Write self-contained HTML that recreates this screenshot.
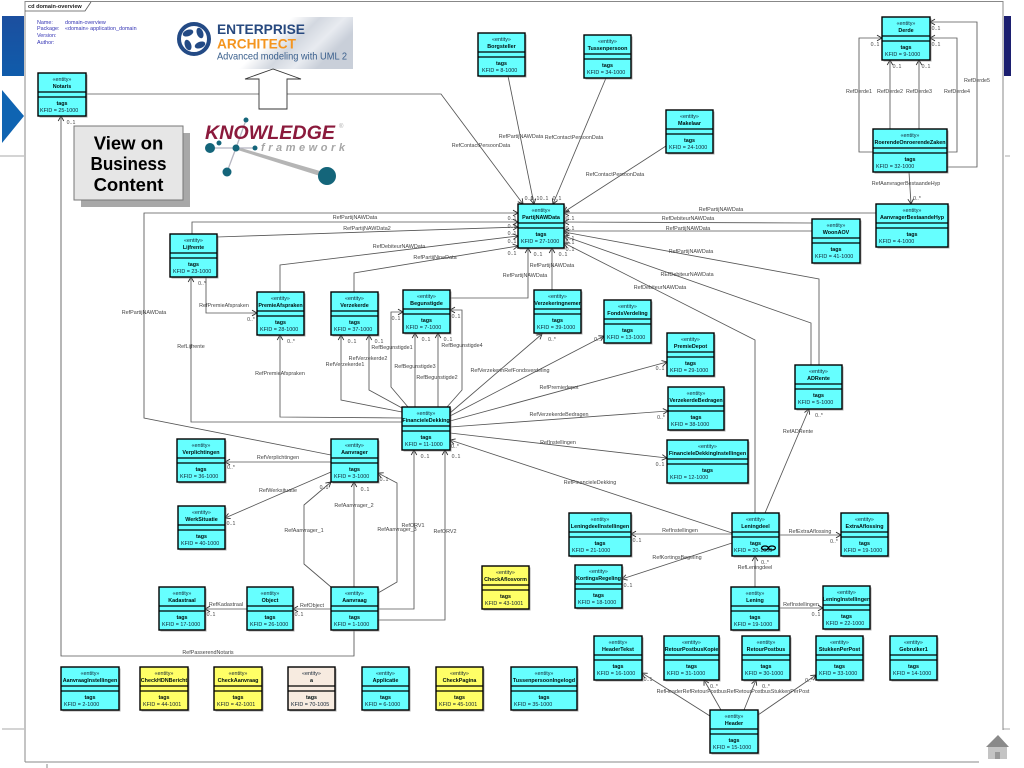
<!DOCTYPE html>
<html><head><meta charset="utf-8"><title>domain-overview</title>
<style>
html,body{margin:0;padding:0;background:#fff;width:1024px;height:768px;overflow:hidden}
svg{display:block;filter:blur(.3px)}
text{font-family:"Liberation Sans",sans-serif}
.l polyline{fill:none;stroke:#555;stroke-width:.85;marker-end:url(#a)}
.lb text{font-size:5.4px;fill:#444;text-anchor:middle}
.m text{font-size:5.2px;fill:#444;text-anchor:middle}
.e rect.b{stroke:#000;stroke-width:1.4}
.e rect.s{fill:#888;opacity:.7}
.e path{stroke:#000;stroke-width:1.2;fill:none}
.e text{font-size:5.4px;fill:#123}
.e .c{text-anchor:middle}
.e .t{text-anchor:middle;font-weight:bold;fill:#011}
.cy{fill:#6ff}.ye{fill:#ff6}.be{fill:#f7ebe0}
.h text{font-size:5.4px;fill:#3434b4}
</style></head><body>
<svg xmlns="http://www.w3.org/2000/svg" width="1024" height="768" viewBox="0 0 1024 768">
<defs>
<marker id="a" markerUnits="userSpaceOnUse" markerWidth="10" markerHeight="10" refX="7" refY="5" orient="auto" viewBox="0 0 10 10"><path d="M2 2.2L7 5L2 7.8" fill="none" stroke="#333" stroke-width=".9"/></marker>
<linearGradient id="g1" x1="0" y1="0" x2="0" y2="1"><stop offset="0" stop-color="#1c4f9f"/><stop offset="1" stop-color="#0f5cab"/></linearGradient>
<linearGradient id="g2" x1="0" y1="0" x2="1" y2=".3"><stop offset="0" stop-color="#fff"/><stop offset=".6" stop-color="#fff"/><stop offset=".75" stop-color="#d3d8e0"/><stop offset=".88" stop-color="#e8ebf0"/><stop offset="1" stop-color="#c9cfd9"/></linearGradient>
</defs>

<!-- background decoration -->
<rect x="2" y="16" width="22" height="60" fill="url(#g1)"/>
<polygon points="2,90 24,116 2,143" fill="#0f64b2"/>
<rect x="1004" y="16" width="7" height="60" fill="#1c1f70"/>
<path d="M0 156H24M1005 156H1010M2 729H24M1003 729H1010" stroke="#aaa" stroke-width="1"/>
<path d="M47 764V768" stroke="#888" stroke-width="1"/>

<!-- frame -->
<path d="M25 762V1.5H1003V730M25 762H979" fill="none" stroke="#888" stroke-width="1"/>
<path d="M25 11H85L91 2" fill="none" stroke="#555" stroke-width=".8"/>
<text x="28" y="8" font-size="5.6" font-weight="bold" fill="#222">cd domain-overview</text>

<g class="h">
<text x="37" y="24">Name:</text><text x="65" y="24">domain-overview</text>
<text x="37" y="30">Package:</text><text x="65" y="30">«domain» application_domain</text>
<text x="37" y="37">Version:</text>
<text x="37" y="44">Author:</text>
</g>

<!-- EA logo -->
<rect x="176" y="17" width="177" height="52" fill="url(#g2)"/>
<circle cx="194" cy="39" r="15" fill="#fff" stroke="#234a85" stroke-width="4"/>
<g fill="#234a85">
<ellipse cx="188" cy="33" rx="5.5" ry="3.2" transform="rotate(-20 188 33)"/>
<ellipse cx="200" cy="33" rx="5.5" ry="3.2" transform="rotate(70 200 33)"/>
<ellipse cx="200" cy="45" rx="5.5" ry="3.2" transform="rotate(-20 200 45)"/>
<ellipse cx="188" cy="45" rx="5.5" ry="3.2" transform="rotate(70 188 45)"/>
</g>
<text x="217" y="34" font-size="14" font-weight="bold" fill="#27497f" textLength="88" lengthAdjust="spacingAndGlyphs">ENTERPRISE</text>
<text x="217" y="48.5" font-size="14" font-weight="bold" fill="#f4951f" textLength="79" lengthAdjust="spacingAndGlyphs">ARCHITECT</text>
<text x="217" y="59.5" font-size="10.5" fill="#3a5f8c" textLength="130" lengthAdjust="spacingAndGlyphs">Advanced modeling with UML 2</text>

<!-- connectors -->
<g class="l">
<polyline points="86,94 441,94 523,204"/>
<polyline points="508,76 534,204"/>
<polyline points="606,78 553,204"/>
<polyline points="666,146 564,212"/>
<polyline points="331,455 144,418 144,213 518,213"/>
<polyline points="192,234 192,222 518,222"/>
<polyline points="217,237 518,227"/>
<polyline points="280,292 280,265 518,236"/>
<polyline points="354,292 354,273 518,246"/>
<polyline points="450,298 528,298 528,248"/>
<polyline points="552,290 552,248"/>
<polyline points="876,213 564,213"/>
<polyline points="812,223 564,222"/>
<polyline points="812,231 564,231"/>
<polyline points="819,365 819,279 564,232"/>
<polyline points="811,365 811,323 564,236"/>
<polyline points="755,513 755,340 564,243"/>
<polyline points="402,422 191,422 191,277"/>
<polyline points="402,418 280,417 280,335"/>
<polyline points="206,277 206,313 257,313"/>
<polyline points="402,412 341,400 341,335"/>
<polyline points="402,408 369,390 369,335"/>
<polyline points="408,407 391,387 391,312 403,312"/>
<polyline points="415,407 415,333"/>
<polyline points="438,407 438,333"/>
<polyline points="447,407 462,390 462,310 450,310"/>
<polyline points="450,413 542,334"/>
<polyline points="450,416 604,336"/>
<polyline points="450,421 667,362"/>
<polyline points="450,427 668,411"/>
<polyline points="450,433 667,458"/>
<polyline points="732,533 450,440"/>
<polyline points="331,462 225,462"/>
<polyline points="331,472 225,518"/>
<polyline points="331,587 304,564 304,505 331,482"/>
<polyline points="354,587 354,482"/>
<polyline points="378,593 397,582 397,483 378,473"/>
<polyline points="378,609 414,609 414,450"/>
<polyline points="378,620 445,620 445,450"/>
<polyline points="331,609 293,609"/>
<polyline points="247,609 205,609"/>
<polyline points="354,630 354,656 61,656 61,116"/>
<polyline points="732,534 631,534"/>
<polyline points="732,543 622,579"/>
<polyline points="755,587 755,556"/>
<polyline points="779,535 841,535"/>
<polyline points="765,513 809,409"/>
<polyline points="779,608 823,608"/>
<polyline points="710,716 642,673"/>
<polyline points="721,710 704,680"/>
<polyline points="744,710 756,680"/>
<polyline points="758,715 816,675"/>
<polyline points="873,152 859,152 859,38 882,38"/>
<polyline points="890,129 890,60"/>
<polyline points="919,129 919,60"/>
<polyline points="947,152 957,152 957,38 930,38"/>
<polyline points="947,167 977,167 977,22 930,22"/>
<polyline points="909,172 911,204"/>
</g>

<!-- big arrow -->
<polygon points="273,69 245,79 259,79 259,109 287,109 287,79 301,79" fill="#fff" stroke="#333" stroke-width=".9"/>

<!-- knowledge logo -->
<path d="M236 146.500L320 171V176L236 149.500Z" fill="#b5b5b5"/>
<path d="M210 148H255M236 148L227 172M236 148L246 120" stroke="#b5b5c0" stroke-width="1.3" fill="none"/>
<text x="205" y="139" font-size="19.500" font-weight="bold" font-style="italic" fill="#8b1a3c" textLength="130" lengthAdjust="spacingAndGlyphs">KNOWLEDGE</text>
<text x="339" y="128" font-size="6" fill="#aaa">®</text>
<text x="261" y="151" font-size="11" font-weight="bold" font-style="italic" fill="#a6a6a6" textLength="84">framework</text>
<g fill="#14657a">
<circle cx="246" cy="120" r="2.500"/><circle cx="210" cy="148" r="5"/><circle cx="219" cy="143" r="2.500"/>
<circle cx="236" cy="148" r="3.500"/><circle cx="255" cy="148" r="2.500"/><circle cx="227" cy="172" r="4.500"/><circle cx="327" cy="176" r="9"/>
</g>

<!-- view box -->
<rect x="81" y="133" width="109" height="74" fill="#a8a8a8"/>
<rect x="74" y="126" width="109" height="74" fill="#e6e6e6" stroke="#777" stroke-width="1"/>
<g font-size="18.500" font-weight="bold" fill="#000" text-anchor="middle">
<text x="128.500" y="149.500">View on</text>
<text x="128.500" y="170" textLength="76" lengthAdjust="spacingAndGlyphs">Business</text>
<text x="128.500" y="191">Content</text>
</g>

<!-- entities -->
<g class="e">
<g transform="translate(38,73)"><rect class="s" x="1.5" y="1.5" width="48" height="43"/><rect class="b cy" width="48" height="43"/><path d="M0 19H48M0 24H48"/><text class="c" x="24" y="8">«entity»</text><text class="t" x="24" y="15">Notaris</text><text class="t" x="24" y="32">tags</text><text x="2" y="39">KFID = 25-1000</text></g>
<g transform="translate(478,33)"><rect class="s" x="1.5" y="1.5" width="47" height="43"/><rect class="b cy" width="47" height="43"/><path d="M0 19H47M0 24H47"/><text class="c" x="23.500" y="8">«entity»</text><text class="t" x="23.500" y="15">Borgsteller</text><text class="t" x="23.500" y="32">tags</text><text x="4" y="39">KFID = 8-1000</text></g>
<g transform="translate(584,35)"><rect class="s" x="1.5" y="1.5" width="47" height="43"/><rect class="b cy" width="47" height="43"/><path d="M0 19H47M0 24H47"/><text class="c" x="23.500" y="8">«entity»</text><text class="t" x="23.500" y="15">Tussenpersoon</text><text class="t" x="23.500" y="32">tags</text><text x="3" y="39">KFID = 34-1000</text></g>
<g transform="translate(666,110)"><rect class="s" x="1.5" y="1.5" width="47" height="43"/><rect class="b cy" width="47" height="43"/><path d="M0 19H47M0 24H47"/><text class="c" x="23.500" y="8">«entity»</text><text class="t" x="23.500" y="15">Makelaar</text><text class="t" x="23.500" y="32">tags</text><text x="3" y="39">KFID = 24-1000</text></g>
<g transform="translate(882,17)"><rect class="s" x="1.5" y="1.5" width="48" height="43"/><rect class="b cy" width="48" height="43"/><path d="M0 19H48M0 24H48"/><text class="c" x="24" y="8">«entity»</text><text class="t" x="24" y="15">Derde</text><text class="t" x="24" y="32">tags</text><text x="3" y="39">KFID = 9-1000</text></g>
<g transform="translate(873,129)"><rect class="s" x="1.5" y="1.5" width="74" height="43"/><rect class="b cy" width="74" height="43"/><path d="M0 19H74M0 24H74"/><text class="c" x="37" y="8">«entity»</text><text class="t" x="37" y="15">RoerendeOnroerendeZaken</text><text class="t" x="37" y="32">tags</text><text x="3" y="39">KFID = 32-1000</text></g>
<g transform="translate(876,204)"><rect class="s" x="1.5" y="1.5" width="72" height="43"/><rect class="b cy" width="72" height="43"/><path d="M0 19H72M0 24H72"/><text class="c" x="36" y="8">«entity»</text><text class="t" x="36" y="15">AanvragerBestaandeHyp</text><text class="t" x="36" y="32">tags</text><text x="3" y="39">KFID = 4-1000</text></g>
<g transform="translate(812,219)"><rect class="s" x="1.5" y="1.5" width="48" height="44"/><rect class="b cy" width="48" height="44"/><path d="M0 19H48M0 24H48"/><text class="c" x="24" y="8">«entity»</text><text class="t" x="24" y="15">WoonAOV</text><text class="t" x="24" y="32">tags</text><text x="3" y="39">KFID = 41-1000</text></g>
<g transform="translate(518,204)"><rect class="s" x="1.5" y="1.5" width="46" height="44"/><rect class="b cy" width="46" height="44"/><path d="M0 19H46M0 24H46"/><text class="c" x="23" y="8">«entity»</text><text class="t" x="23" y="15">PartijNAWData</text><text class="t" x="23" y="32">tags</text><text x="3" y="39">KFID = 27-1000</text></g>
<g transform="translate(170,234)"><rect class="s" x="1.5" y="1.5" width="47" height="43"/><rect class="b cy" width="47" height="43"/><path d="M0 19H47M0 24H47"/><text class="c" x="23.500" y="8">«entity»</text><text class="t" x="23.500" y="15">Lijfrente</text><text class="t" x="23.500" y="32">tags</text><text x="3" y="39">KFID = 23-1000</text></g>
<g transform="translate(257,292)"><rect class="s" x="1.5" y="1.5" width="47" height="43"/><rect class="b cy" width="47" height="43"/><path d="M0 19H47M0 24H47"/><text class="c" x="23.500" y="8">«entity»</text><text class="t" x="23.500" y="15">PremieAfspraken</text><text class="t" x="23.500" y="32">tags</text><text x="3" y="39">KFID = 28-1000</text></g>
<g transform="translate(331,292)"><rect class="s" x="1.5" y="1.5" width="47" height="43"/><rect class="b cy" width="47" height="43"/><path d="M0 19H47M0 24H47"/><text class="c" x="23.500" y="8">«entity»</text><text class="t" x="23.500" y="15">Verzekerde</text><text class="t" x="23.500" y="32">tags</text><text x="3" y="39">KFID = 37-1000</text></g>
<g transform="translate(403,290)"><rect class="s" x="1.5" y="1.5" width="47" height="43"/><rect class="b cy" width="47" height="43"/><path d="M0 19H47M0 24H47"/><text class="c" x="23.500" y="8">«entity»</text><text class="t" x="23.500" y="15">Begunstigde</text><text class="t" x="23.500" y="32">tags</text><text x="3" y="39">KFID = 7-1000</text></g>
<g transform="translate(534,290)"><rect class="s" x="1.5" y="1.5" width="47" height="43"/><rect class="b cy" width="47" height="43"/><path d="M0 19H47M0 24H47"/><text class="c" x="23.500" y="8">«entity»</text><text class="t" x="23.500" y="15">Verzekeringnemer</text><text class="t" x="23.500" y="32">tags</text><text x="3" y="39">KFID = 39-1000</text></g>
<g transform="translate(604,300)"><rect class="s" x="1.5" y="1.5" width="47" height="43"/><rect class="b cy" width="47" height="43"/><path d="M0 19H47M0 24H47"/><text class="c" x="23.500" y="8">«entity»</text><text class="t" x="23.500" y="15">FondsVerdeling</text><text class="t" x="23.500" y="32">tags</text><text x="3" y="39">KFID = 13-1000</text></g>
<g transform="translate(667,333)"><rect class="s" x="1.5" y="1.5" width="47" height="43"/><rect class="b cy" width="47" height="43"/><path d="M0 19H47M0 24H47"/><text class="c" x="23.500" y="8">«entity»</text><text class="t" x="23.500" y="15">PremieDepot</text><text class="t" x="23.500" y="32">tags</text><text x="3" y="39">KFID = 29-1000</text></g>
<g transform="translate(668,387)"><rect class="s" x="1.5" y="1.5" width="56" height="43"/><rect class="b cy" width="56" height="43"/><path d="M0 19H56M0 24H56"/><text class="c" x="28" y="8">«entity»</text><text class="t" x="28" y="15">VerzekerdeBedragen</text><text class="t" x="28" y="32">tags</text><text x="3" y="39">KFID = 38-1000</text></g>
<g transform="translate(667,440)"><rect class="s" x="1.5" y="1.5" width="81" height="43"/><rect class="b cy" width="81" height="43"/><path d="M0 19H81M0 24H81"/><text class="c" x="40.500" y="8">«entity»</text><text class="t" x="40.500" y="15">FinancieleDekkingInstellingen</text><text class="t" x="40.500" y="32">tags</text><text x="3" y="39">KFID = 12-1000</text></g>
<g transform="translate(795,365)"><rect class="s" x="1.5" y="1.5" width="47" height="44"/><rect class="b cy" width="47" height="44"/><path d="M0 19H47M0 24H47"/><text class="c" x="23.500" y="8">«entity»</text><text class="t" x="23.500" y="15">ADRente</text><text class="t" x="23.500" y="32">tags</text><text x="3" y="39">KFID = 5-1000</text></g>
<g transform="translate(402,407)"><rect class="s" x="1.5" y="1.5" width="48" height="43"/><rect class="b cy" width="48" height="43"/><path d="M0 19H48M0 24H48"/><text class="c" x="24" y="8">«entity»</text><text class="t" x="24" y="15">FinancieleDekking</text><text class="t" x="24" y="32">tags</text><text x="3" y="39">KFID = 11-1000</text></g>
<g transform="translate(177,439)"><rect class="s" x="1.5" y="1.5" width="48" height="43"/><rect class="b cy" width="48" height="43"/><path d="M0 19H48M0 24H48"/><text class="c" x="24" y="8">«entity»</text><text class="t" x="24" y="15">Verplichtingen</text><text class="t" x="24" y="32">tags</text><text x="3" y="39">KFID = 36-1000</text></g>
<g transform="translate(331,439)"><rect class="s" x="1.5" y="1.5" width="47" height="43"/><rect class="b cy" width="47" height="43"/><path d="M0 19H47M0 24H47"/><text class="c" x="23.500" y="8">«entity»</text><text class="t" x="23.500" y="15">Aanvrager</text><text class="t" x="23.500" y="32">tags</text><text x="3" y="39">KFID = 3-1000</text></g>
<g transform="translate(178,506)"><rect class="s" x="1.5" y="1.5" width="47" height="43"/><rect class="b cy" width="47" height="43"/><path d="M0 19H47M0 24H47"/><text class="c" x="23.500" y="8">«entity»</text><text class="t" x="23.500" y="15">WerkSituatie</text><text class="t" x="23.500" y="32">tags</text><text x="3" y="39">KFID = 40-1000</text></g>
<g transform="translate(159,587)"><rect class="s" x="1.5" y="1.5" width="46" height="43"/><rect class="b cy" width="46" height="43"/><path d="M0 19H46M0 24H46"/><text class="c" x="23" y="8">«entity»</text><text class="t" x="23" y="15">Kadastraal</text><text class="t" x="23" y="32">tags</text><text x="3" y="39">KFID = 17-1000</text></g>
<g transform="translate(247,587)"><rect class="s" x="1.5" y="1.5" width="46" height="43"/><rect class="b cy" width="46" height="43"/><path d="M0 19H46M0 24H46"/><text class="c" x="23" y="8">«entity»</text><text class="t" x="23" y="15">Object</text><text class="t" x="23" y="32">tags</text><text x="3" y="39">KFID = 26-1000</text></g>
<g transform="translate(331,587)"><rect class="s" x="1.5" y="1.5" width="47" height="43"/><rect class="b cy" width="47" height="43"/><path d="M0 19H47M0 24H47"/><text class="c" x="23.500" y="8">«entity»</text><text class="t" x="23.500" y="15">Aanvraag</text><text class="t" x="23.500" y="32">tags</text><text x="3" y="39">KFID = 1-1000</text></g>
<g transform="translate(482,566)"><rect class="s" x="1.5" y="1.5" width="47" height="43"/><rect class="b ye" width="47" height="43"/><path d="M0 19H47M0 24H47"/><text class="c" x="23.500" y="8">«entity»</text><text class="t" x="23.500" y="15">CheckAflosvorm</text><text class="t" x="23.500" y="32">tags</text><text x="3" y="39">KFID = 43-1001</text></g>
<g transform="translate(569,513)"><rect class="s" x="1.5" y="1.5" width="62" height="43"/><rect class="b cy" width="62" height="43"/><path d="M0 19H62M0 24H62"/><text class="c" x="31" y="8">«entity»</text><text class="t" x="31" y="15">LeningdeelInstellingen</text><text class="t" x="31" y="32">tags</text><text x="3" y="39">KFID = 21-1000</text></g>
<g transform="translate(732,513)"><rect class="s" x="1.5" y="1.5" width="47" height="43"/><rect class="b cy" width="47" height="43"/><path d="M0 19H47M0 24H47"/><text class="c" x="23.500" y="8">«entity»</text><text class="t" x="23.500" y="15">Leningdeel</text><text class="t" x="23.500" y="32">tags</text><text x="2" y="39">KFID = 20-1000</text></g>
<g transform="translate(841,513)"><rect class="s" x="1.5" y="1.5" width="47" height="43"/><rect class="b cy" width="47" height="43"/><path d="M0 19H47M0 24H47"/><text class="c" x="23.500" y="8">«entity»</text><text class="t" x="23.500" y="15">ExtraAflossing</text><text class="t" x="23.500" y="32">tags</text><text x="3" y="39">KFID = 19-1000</text></g>
<g transform="translate(575,565)"><rect class="s" x="1.5" y="1.5" width="47" height="43"/><rect class="b cy" width="47" height="43"/><path d="M0 19H47M0 24H47"/><text class="c" x="23.500" y="8">«entity»</text><text class="t" x="23.500" y="15">KortingsRegeling</text><text class="t" x="23.500" y="32">tags</text><text x="3" y="39">KFID = 18-1000</text></g>
<g transform="translate(731,587)"><rect class="s" x="1.5" y="1.5" width="48" height="43"/><rect class="b cy" width="48" height="43"/><path d="M0 19H48M0 24H48"/><text class="c" x="24" y="8">«entity»</text><text class="t" x="24" y="15">Lening</text><text class="t" x="24" y="32">tags</text><text x="3" y="39">KFID = 19-1000</text></g>
<g transform="translate(823,586)"><rect class="s" x="1.5" y="1.5" width="47" height="43"/><rect class="b cy" width="47" height="43"/><path d="M0 19H47M0 24H47"/><text class="c" x="23.500" y="8">«entity»</text><text class="t" x="23.500" y="15">LeningInstellingen</text><text class="t" x="23.500" y="32">tags</text><text x="3" y="39">KFID = 22-1000</text></g>
<g transform="translate(594,636)"><rect class="s" x="1.5" y="1.5" width="48" height="44"/><rect class="b cy" width="48" height="44"/><path d="M0 19H48M0 24H48"/><text class="c" x="24" y="8">«entity»</text><text class="t" x="24" y="15">HeaderTekst</text><text class="t" x="24" y="32">tags</text><text x="3" y="39">KFID = 16-1000</text></g>
<g transform="translate(664,636)"><rect class="s" x="1.5" y="1.5" width="55" height="44"/><rect class="b cy" width="55" height="44"/><path d="M0 19H55M0 24H55"/><text class="c" x="27.500" y="8">«entity»</text><text class="t" x="27.500" y="15">RetourPostbusKopie</text><text class="t" x="27.500" y="32">tags</text><text x="3" y="39">KFID = 31-1000</text></g>
<g transform="translate(742,636)"><rect class="s" x="1.5" y="1.5" width="48" height="44"/><rect class="b cy" width="48" height="44"/><path d="M0 19H48M0 24H48"/><text class="c" x="24" y="8">«entity»</text><text class="t" x="24" y="15">RetourPostbus</text><text class="t" x="24" y="32">tags</text><text x="3" y="39">KFID = 30-1000</text></g>
<g transform="translate(816,636)"><rect class="s" x="1.5" y="1.5" width="47" height="44"/><rect class="b cy" width="47" height="44"/><path d="M0 19H47M0 24H47"/><text class="c" x="23.500" y="8">«entity»</text><text class="t" x="23.500" y="15">StukkenPerPost</text><text class="t" x="23.500" y="32">tags</text><text x="3" y="39">KFID = 33-1000</text></g>
<g transform="translate(890,636)"><rect class="s" x="1.5" y="1.5" width="47" height="44"/><rect class="b cy" width="47" height="44"/><path d="M0 19H47M0 24H47"/><text class="c" x="23.500" y="8">«entity»</text><text class="t" x="23.500" y="15">Gebruiker1</text><text class="t" x="23.500" y="32">tags</text><text x="3" y="39">KFID = 14-1000</text></g>
<g transform="translate(710,710)"><rect class="s" x="1.5" y="1.5" width="48" height="43"/><rect class="b cy" width="48" height="43"/><path d="M0 19H48M0 24H48"/><text class="c" x="24" y="8">«entity»</text><text class="t" x="24" y="15">Header</text><text class="t" x="24" y="32">tags</text><text x="3" y="39">KFID = 15-1000</text></g>
<g transform="translate(61,667)"><rect class="s" x="1.5" y="1.5" width="58" height="43"/><rect class="b cy" width="58" height="43"/><path d="M0 19H58M0 24H58"/><text class="c" x="29" y="8">«entity»</text><text class="t" x="29" y="15">AanvraagInstellingen</text><text class="t" x="29" y="32">tags</text><text x="3" y="39">KFID = 2-1000</text></g>
<g transform="translate(140,667)"><rect class="s" x="1.5" y="1.5" width="48" height="43"/><rect class="b ye" width="48" height="43"/><path d="M0 19H48M0 24H48"/><text class="c" x="24" y="8">«entity»</text><text class="t" x="24" y="15">CheckHDNBericht</text><text class="t" x="24" y="32">tags</text><text x="3" y="39">KFID = 44-1001</text></g>
<g transform="translate(214,667)"><rect class="s" x="1.5" y="1.5" width="48" height="43"/><rect class="b ye" width="48" height="43"/><path d="M0 19H48M0 24H48"/><text class="c" x="24" y="8">«entity»</text><text class="t" x="24" y="15">CheckAanvraag</text><text class="t" x="24" y="32">tags</text><text x="3" y="39">KFID = 42-1001</text></g>
<g transform="translate(288,667)"><rect class="s" x="1.5" y="1.5" width="47" height="43"/><rect class="b be" width="47" height="43"/><path d="M0 19H47M0 24H47"/><text class="c" x="23.500" y="8">«entity»</text><text class="t" x="23.500" y="15">a</text><text class="t" x="23.500" y="32">tags</text><text x="3" y="39">KFID = 70-1005</text></g>
<g transform="translate(362,667)"><rect class="s" x="1.5" y="1.5" width="47" height="43"/><rect class="b cy" width="47" height="43"/><path d="M0 19H47M0 24H47"/><text class="c" x="23.500" y="8">«entity»</text><text class="t" x="23.500" y="15">Applicatie</text><text class="t" x="23.500" y="32">tags</text><text x="3" y="39">KFID = 6-1000</text></g>
<g transform="translate(436,667)"><rect class="s" x="1.5" y="1.5" width="47" height="43"/><rect class="b ye" width="47" height="43"/><path d="M0 19H47M0 24H47"/><text class="c" x="23.500" y="8">«entity»</text><text class="t" x="23.500" y="15">CheckPagina</text><text class="t" x="23.500" y="32">tags</text><text x="3" y="39">KFID = 45-1001</text></g>
<g transform="translate(511,667)"><rect class="s" x="1.5" y="1.5" width="66" height="43"/><rect class="b cy" width="66" height="43"/><path d="M0 19H66M0 24H66"/><text class="c" x="33" y="8">«entity»</text><text class="t" x="33" y="15">TussenpersoonIngelogd</text><text class="t" x="33" y="32">tags</text><text x="3" y="39">KFID = 35-1000</text></g>
</g>

<!-- link glyph -->
<g fill="none" stroke="#000" stroke-width="1.3"><ellipse cx="765" cy="548" rx="3.4" ry="2"/><ellipse cx="772" cy="548" rx="3.4" ry="2"/></g>

<!-- connector labels -->
<g class="lb">
<text x="521" y="138">RefPartijNAWData</text>
<text x="574" y="139">RefContactPersoonData</text>
<text x="481" y="147">RefContactPersoonData</text>
<text x="615" y="176">RefContactPersoonData</text>
<text x="355" y="219">RefPartijNAWData</text>
<text x="367" y="230">RefPartijNAWData2</text>
<text x="399" y="248">RefDebiteurNAWData</text>
<text x="435" y="259">RefPartijNineData</text>
<text x="525" y="277">RefPartijNAWData</text>
<text x="552" y="267">RefPartijNAWData</text>
<text x="721" y="211">RefPartijNAWData</text>
<text x="688" y="220">RefDebiteurNAWData</text>
<text x="688" y="230">RefPartijNAWData</text>
<text x="691" y="253">RefPartijNAWData</text>
<text x="687" y="276">REfDebiteurNAWData</text>
<text x="660" y="289">RefDebiteurNAWData</text>
<text x="144" y="314">RefPartijNAWData</text>
<text x="224" y="307">RefPremieAfspraken</text>
<text x="191" y="348">RefLijfrente</text>
<text x="280" y="375">RefPremieAfspraken</text>
<text x="345" y="366">RefVerzekerde1</text>
<text x="368" y="360">RefVerzekerde2</text>
<text x="392" y="349">RefBegunstigde1</text>
<text x="415" y="368">RefBegunstigde3</text>
<text x="437" y="379">RefBegunstigde2</text>
<text x="462" y="347">RefBegunstigde4</text>
<text x="510" y="372">RefVerzekerinRefFondsverdeling</text>
<text x="559" y="389">RefPremiedepot</text>
<text x="559" y="416">RefVerzekerdeBedragen</text>
<text x="558" y="444">RefInstellingen</text>
<text x="590" y="484">RefFinancieleDekking</text>
<text x="278" y="459">RefVerplichtingen</text>
<text x="278" y="492">RefWerksituatie</text>
<text x="304" y="532">RefAanvrager_1</text>
<text x="354" y="507">RefAanvrager_2</text>
<text x="397" y="531">RefAanvrager_3</text>
<text x="413" y="527">RefORV1</text>
<text x="445" y="533">RefORV2</text>
<text x="312" y="607">RefObject</text>
<text x="226" y="606">RefKadastraal</text>
<text x="208" y="654">RefPasserendNotaris</text>
<text x="680" y="532">RefInstellingen</text>
<text x="677" y="559">RefKortingsBegeling</text>
<text x="755" y="569">RefLeningdeel</text>
<text x="810" y="533">RefExtraAflossing</text>
<text x="798" y="433">RefADRente</text>
<text x="801" y="606">RefInstellingen</text>
<text x="733" y="693">RefHeaderRefRetourPostbusRefRetourPostbusStukkenPerPost</text>
<text x="859" y="93">RefDerde1</text>
<text x="890" y="93">RefDerde2</text>
<text x="919" y="93">RefDerde3</text>
<text x="957" y="93">RefDerde4</text>
<text x="977" y="82">RefDerde5</text>
<text x="906" y="185">RefAanvragerBestaandeHyp</text>
</g>

<!-- multiplicities -->
<g class="m">
<text x="71" y="124">0..1</text>
<text x="529" y="200">0..1</text><text x="535" y="200">0..1</text><text x="544" y="200">0..1</text><text x="557" y="200">0..1</text>
<text x="512" y="220">0..1</text><text x="512" y="228">0..1</text><text x="512" y="235">0..1</text><text x="512" y="243">0..1</text><text x="512" y="255">0..1</text>
<text x="570" y="220">0..1</text><text x="570" y="230">0..1</text><text x="570" y="240">0..1</text><text x="570" y="244">0..1</text><text x="570" y="251">0..1</text>
<text x="538" y="256">0..1</text><text x="563" y="256">0..1</text>
<text x="202" y="285">0..*</text><text x="251" y="321">0..*</text><text x="291" y="343">0..*</text>
<text x="352" y="343">0..1</text><text x="379" y="343">0..1</text>
<text x="396" y="320">0..1</text><text x="456" y="318">0..1</text><text x="426" y="341">0..1</text><text x="448" y="341">0..1</text>
<text x="552" y="341">0..*</text><text x="598" y="341">0..*</text><text x="660" y="370">0..1</text><text x="661" y="419">0..*</text><text x="660" y="466">0..1</text>
<text x="455" y="448">0..*</text><text x="425" y="458">0..1</text><text x="456" y="458">0..1</text>
<text x="231" y="469">0..*</text><text x="231" y="525">0..1</text>
<text x="324" y="489">0..1</text><text x="365" y="491">0..1</text><text x="384" y="481">0..1</text>
<text x="211" y="616">0..1</text><text x="299" y="616">0..1</text>
<text x="637" y="542">0..1</text><text x="628" y="587">0..1</text><text x="765" y="564">0..*</text><text x="834" y="543">0..*</text><text x="816" y="616">0..1</text>
<text x="819" y="417">0..*</text>
<text x="648" y="681">0..1</text><text x="714" y="688">0..*</text><text x="766" y="688">0..*</text><text x="809" y="682">0..*</text>
<text x="875" y="46">0..1</text><text x="936" y="30">0..1</text><text x="936" y="46">0..1</text><text x="897" y="68">0..1</text><text x="926" y="68">0..1</text>
<text x="917" y="200">0..*</text>
</g>

<!-- home icon -->
<rect x="988" y="747" width="19" height="12" fill="#c4c4c4"/>
<rect x="995" y="752" width="5" height="7" fill="#999"/>
<polygon points="998,735 986,747 1009,747" fill="#8a8a8a"/>
</svg>
</body></html>
